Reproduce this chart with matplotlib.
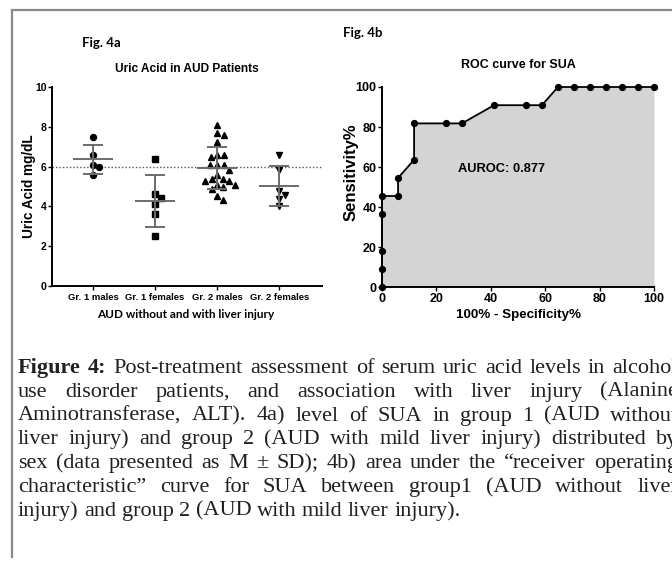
import numpy as np
import matplotlib
matplotlib.use("Agg")
import matplotlib.pyplot as plt
from matplotlib.lines import Line2D

W, H = 672, 562

# Fig 4a - serum uric acid (mg/dL) per group
groups = ["Gr. 1 males", "Gr. 1 females", "Gr. 2 males", "Gr. 2 females"]
gr1_males = [7.5, 6.6, 6.1, 6.0, 5.6]
gr1_females = [6.4, 4.6, 4.4, 4.1, 3.6, 2.5]
gr2_males = [8.1, 7.7, 7.6, 7.25, 6.6, 6.6, 6.5, 6.1, 6.1, 6.1, 5.85,
             5.6, 5.4, 5.4, 5.3, 5.3, 5.1, 5.1, 4.95, 4.85, 4.5, 4.3]
gr2_females = [6.6, 5.85, 4.75, 4.55, 4.35, 4.0]
group_values = [gr1_males, gr1_females, gr2_males, gr2_females]
group_markers = ["o", "s", "^", "v"]
cutoff = 6.0

# Fig 4b - ROC curve for SUA (100% - specificity, sensitivity)
spec = [0, 0, 0, 0, 0, 5.9, 5.9, 11.8, 11.8, 23.5, 29.4, 41.2, 52.9, 58.8,
        64.7, 70.6, 76.5, 82.4, 88.2, 94.1, 100]
sens = [0, 9.1, 18.2, 36.4, 45.5, 45.5, 54.5, 63.6, 81.8, 81.8, 81.8, 90.9,
        90.9, 90.9, 100, 100, 100, 100, 100, 100, 100]
auroc = 0.877

caption = [
    "Figure 4: Post-treatment assessment of serum uric acid levels in alcohol",
    "use disorder patients, and association with liver injury (Alanine",
    "Aminotransferase, ALT). 4a) level of SUA in group 1 (AUD without",
    "liver injury) and group 2 (AUD with mild liver injury) distributed by",
    "sex (data presented as M \u00b1 SD); 4b) area under the \u201creceiver operating",
    "characteristic\u201d curve for SUA between group1 (AUD without liver",
    "injury) and group 2 (AUD with mild liver injury).",
]

SANS = "Liberation Sans"


def swarm(vals, px_per_unit, d):
    # simple beeswarm: offsets in pixels, closest to centre without overlap
    placed = []
    offs = []
    for v in vals:
        y = v * px_per_unit
        cands = [0.0]
        for ox, oy in placed:
            dy = y - oy
            if abs(dy) < d:
                dx = np.sqrt(d ** 2 - dy ** 2)
                cands += [ox + dx, ox - dx]
        cands.sort(key=abs)
        for c in cands:
            if all((c - ox) ** 2 + (y - oy) ** 2 >= d ** 2 - 1e-6 for ox, oy in placed):
                break
        placed.append((c, y))
        offs.append(c)
    return np.array(offs)


fig = plt.figure(figsize=(W / 100, H / 100), dpi=100)

# ---- panel a
ax1 = fig.add_axes([52 / W, 1 - 286 / H, 270 / W, 199 / H])
ax1.set_xlim(-0.66, 3.69)
ax1.set_ylim(0, 10)
x_px = 62.0   # pixels per category
y_px = 19.9   # pixels per mg/dL
for i, (vals, m) in enumerate(zip(group_values, group_markers)):
    vals = np.array(vals)
    offs = swarm(vals, y_px, 6.8) / x_px
    ax1.plot(i + offs, vals, m, color="black", ms=4.3, ls="none", zorder=2, clip_on=False)
    mean = vals.mean()
    sd = vals.std(ddof=1)
    ax1.hlines(mean, i - 0.32, i + 0.32, color="#6b6b6b", lw=1.4, zorder=3)
    ax1.hlines([mean - sd, mean + sd], i - 0.16, i + 0.16, color="#6b6b6b", lw=1.4, zorder=3)
    ax1.vlines(i, mean - sd, mean + sd, color="#6b6b6b", lw=1.4, zorder=3)
ax1.axhline(cutoff, color="#555555", lw=1, ls=(0, (1, 1.5)), zorder=1)

ax1.set_xticks(range(len(groups)))
ax1.set_xticklabels(groups, fontsize=6.8, fontweight="bold", family=SANS)
ax1.set_yticks(np.arange(0, 11, 2))
ax1.tick_params(axis="y", labelsize=7.5, length=3, width=1, pad=1)
ax1.tick_params(axis="x", length=3, width=1, pad=2)
for lab in ax1.get_yticklabels():
    lab.set_fontweight("bold")
    lab.set_family(SANS)
for s in ["top", "right"]:
    ax1.spines[s].set_visible(False)
for s in ["left", "bottom"]:
    ax1.spines[s].set_linewidth(1.4)
ax1.set_ylabel("Uric Acid mg/dL", fontsize=9.8, fontweight="bold", family=SANS)
ax1.yaxis.set_label_coords(-0.06, 0.5)
ax1.set_title("Uric Acid in AUD Patients", fontsize=8.6, fontweight="bold", family=SANS, pad=11)

fig.text(82 / W, 1 - 43 / H, "Fig. 4a", fontsize=9.5, fontweight="bold", family="Lato", va="center")
fig.text(186 / W, 1 - 315 / H, "AUD without and with liver injury", fontsize=8.5,
         fontweight="bold", family="Lato", ha="center", va="center")

# ---- panel b
ax2 = fig.add_axes([382 / W, 1 - 287 / H, 272 / W, 200 / H])
ax2.fill_between(spec, sens, 0, color="#d4d4d4", lw=0)
ax2.plot(spec, sens, "-o", color="black", lw=1.3, ms=4.2, clip_on=False, zorder=3)
ax2.set_xlim(0, 100)
ax2.set_ylim(0, 100)
ax2.set_xticks(np.arange(0, 101, 20))
ax2.set_yticks(np.arange(0, 101, 20))
ax2.tick_params(length=3, width=1, labelsize=9, pad=1)
for lab in ax2.get_xticklabels() + ax2.get_yticklabels():
    lab.set_fontweight("bold")
    lab.set_family(SANS)
for s in ["top", "right"]:
    ax2.spines[s].set_visible(False)
for s in ["left", "bottom"]:
    ax2.spines[s].set_linewidth(1.4)
ax2.set_title("ROC curve for SUA", fontsize=9, fontweight="bold", family=SANS, pad=14)
ax2.set_ylabel("Sensitivity%", fontsize=12, fontweight="bold", family=SANS)
ax2.yaxis.set_label_coords(-0.088, 0.575)
ax2.set_xlabel("100% - Specificity%", fontsize=9.6, fontweight="bold", family=SANS, labelpad=3)
ax2.text(28, 59, f"AUROC: {auroc}", fontsize=9.3, fontweight="bold", family=SANS, va="center")

fig.text(343 / W, 1 - 33 / H, "Fig. 4b", fontsize=9.5, fontweight="bold", family="Lato", va="center")

# ---- frame
fig.add_artist(Line2D([12 / W, 12 / W], [1 - 10 / H, 1 - 557 / H], color="#8a8a8a", lw=1.6))
fig.add_artist(Line2D([12 / W, 1], [1 - 10 / H, 1 - 10 / H], color="#8a8a8a", lw=1.6))

# ---- caption, justified word by word
renderer = fig.canvas.get_renderer()
left, right = 18, 678
for i, line in enumerate(caption):
    words = line.split()
    y = 1 - (373 + i * 23.8) / H
    objs = []
    for j, w in enumerate(words):
        bold = (i == 0 and j < 2)
        t = fig.text(0, y, w, fontsize=16, family="Liberation Serif",
                     fontweight="bold" if bold else "normal", va="baseline", color="#231f20")
        objs.append(t)
    widths = [t.get_window_extent(renderer).width for t in objs]
    if i < len(caption) - 1:
        gap = (right - left - sum(widths)) / (len(words) - 1)
    else:
        gap = 5.5
    x = left
    for t, wd in zip(objs, widths):
        t.set_x(x / W)
        x += wd + gap

fig.savefig("out.png", dpi=100)
